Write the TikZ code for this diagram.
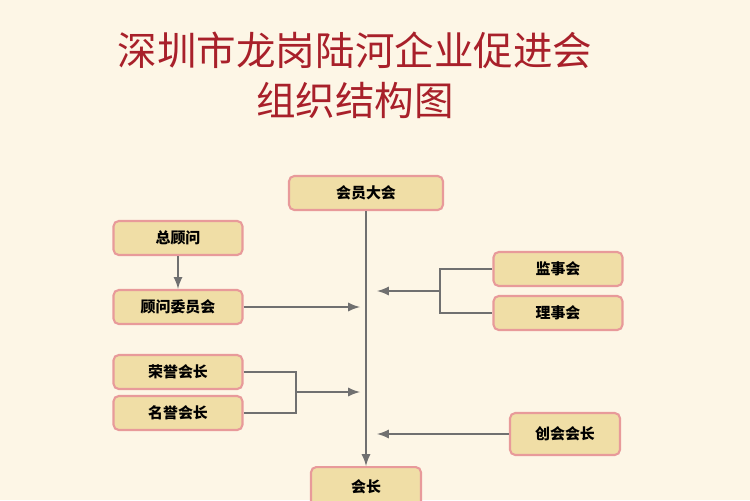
\documentclass[tikz,border=0pt]{standalone}
\usepackage{fontspec}
\newfontfamily\cjk{Noto Sans CJK SC}
\usetikzlibrary{positioning,calc}
\definecolor{bgcolor}{HTML}{FDF6E6}
\definecolor{boxfill}{HTML}{F0DEA6}
\definecolor{boxline}{HTML}{E89A9A}
\definecolor{linecolor}{HTML}{707070}
\definecolor{titlecolor}{HTML}{A8202A}
\begin{document}
\begin{tikzpicture}[x=0.02cm,y=-0.02cm,font=\cjk,
    unit/.style={rectangle, draw=boxline, line width=1.2pt, rounded corners=3pt, fill=boxfill, minimum width=2.58cm, minimum height=0.68cm, font=\cjk\bfseries\fontsize{8.5}{10}\selectfont},
    link/.style={draw=linecolor, line width=1.3pt},
    arr/.style={link, ->, >=latex}]
    % Hintergrund
    \fill[bgcolor] (0,0) rectangle (750,500);
    \useasboundingbox (0,0) rectangle (750,500);
    \node (title1) [titlecolor, font=\cjk\fontsize{22.5}{26}\selectfont] at (355,50) {深圳市龙岗陆河企业促进会};
    \node (title2) [titlecolor, font=\cjk\fontsize{22.5}{26}\selectfont] at (355,100) {组织结构图};
    % Noder
    \node (assembly) [unit, minimum width=3.08cm] at (366,193) {会员大会};
    \node (chiefadv) [unit] at (178,238) {总顾问};
    \node (advboard) [unit] at (178,307) {顾问委员会};
    \node (honor) [unit] at (178,372) {荣誉会长};
    \node (emeritus) [unit] at (178,413) {名誉会长};
    \node (supervisors) [unit] at (558,269) {监事会};
    \node (directors) [unit] at (558,313) {理事会};
    \node (founder) [unit, minimum width=2.2cm, minimum height=0.84cm] at (565,434) {创会会长};
    \node (president) [unit, minimum width=2.2cm, minimum height=0.8cm, anchor=north] at (366,466) {会长};
    % Pilarna
    \coordinate (mainL) at (360,0);
    \coordinate (mainR) at (377,0);
    \coordinate (ljoin) at (296,392);
    \coordinate (rjoin) at (440,291);
    \draw [arr] (assembly.south) -- (president.north);
    \draw [arr] (chiefadv) -- (advboard);
    \draw [arr] (advboard) -- (advboard -| mainL);
    \draw [link] (honor.east) -- (honor.east -| ljoin) |- (emeritus.east);
    \draw [arr] (ljoin) -- (ljoin -| mainL);
    \draw [link] (supervisors.west) -- (supervisors.west -| rjoin) |- (directors.west);
    \draw [arr] (rjoin) -- (rjoin -| mainR);
    \draw [arr] (founder) -- (founder -| mainR);
\end{tikzpicture}
\end{document}
